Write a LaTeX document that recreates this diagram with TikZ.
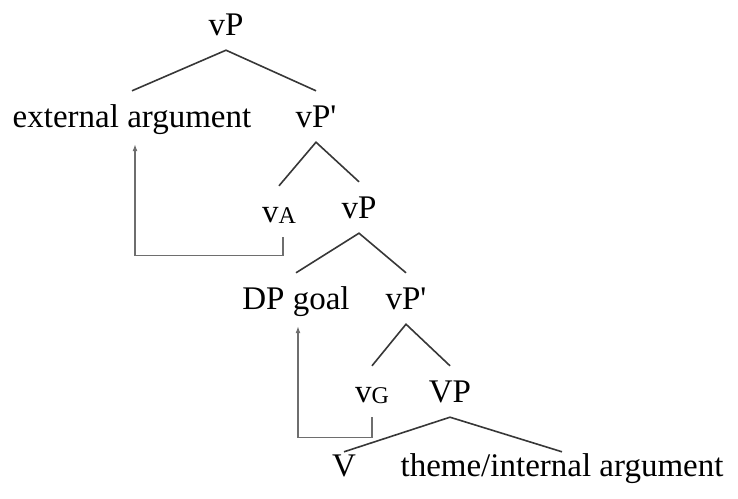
\documentclass[tikz,border=0pt]{standalone}
\usepackage{fontspec}
\setmainfont{Liberation Serif}
\usepackage{xcolor}
\usetikzlibrary{arrows.meta, positioning, calc}

\definecolor{linegray}{RGB}{55,55,55}
\definecolor{movegray}{RGB}{110,110,110}
\newcommand{\subcat}[1]{\raisebox{-1.5pt}{\fontsize{24}{24}\selectfont #1}}

\begin{document}
\begin{tikzpicture}[
  x=1pt, y=-1pt,
  cat/.style={anchor=base, inner sep=0pt, text height=36pt, text depth=15pt, font=\fontsize{33}{37}\selectfont},
  leaf/.style={cat, text height=24pt},
  branch/.style={draw=linegray, line width=1.6pt},
  arrow/.style={draw=movegray, line width=1.2pt, -{Latex[length=7pt, width=5pt]}, shorten >=2pt},
]
  \useasboundingbox (0,0) rectangle (738,498);

  % tree nodes
  \node[cat] (vP) at (226,35) {vP};
  \node[cat] (ext) at (132,127) {external argument};
  \node[cat] (vbar) at (316,127) {vP\textquotesingle};
  \node[cat] (vA) at (279,222) {v\subcat{A}};
  \node[cat] (vPlow) at (359,218) {vP};
  \node[cat] (goal) at (296,309) {DP goal};
  \node[cat] (vbarlow) at (406,309) {vP\textquotesingle};
  \node[cat] (vG) at (372,402) {v\subcat{G}};
  \node[cat] (VP) at (450,402) {VP};
  \node[leaf] (V) at (344,476) {V};
  \node[leaf] (theme) at (562,476) {theme/internal argument};

  % branches
  \draw[branch] (ext.north) -- (vP.south) -- (vbar.north);
  \draw[branch] (vA.north) -- (vbar.south) -- (vPlow.north);
  \draw[branch] (goal.north) -- (vPlow.south) -- (vbarlow.north);
  \draw[branch] (vG.north) -- (vbarlow.south) -- (VP.north);
  \draw[branch] (V.north) -- (VP.south) -- (theme.north);

  % movement
  \draw[arrow] ([xshift=4pt]vA.south) -- ++(0,18) -| ([xshift=3pt]ext.south);
  \draw[arrow] (vG.south) -- ++(0,20) -| ([xshift=2pt]goal.south);
\end{tikzpicture}
\end{document}
